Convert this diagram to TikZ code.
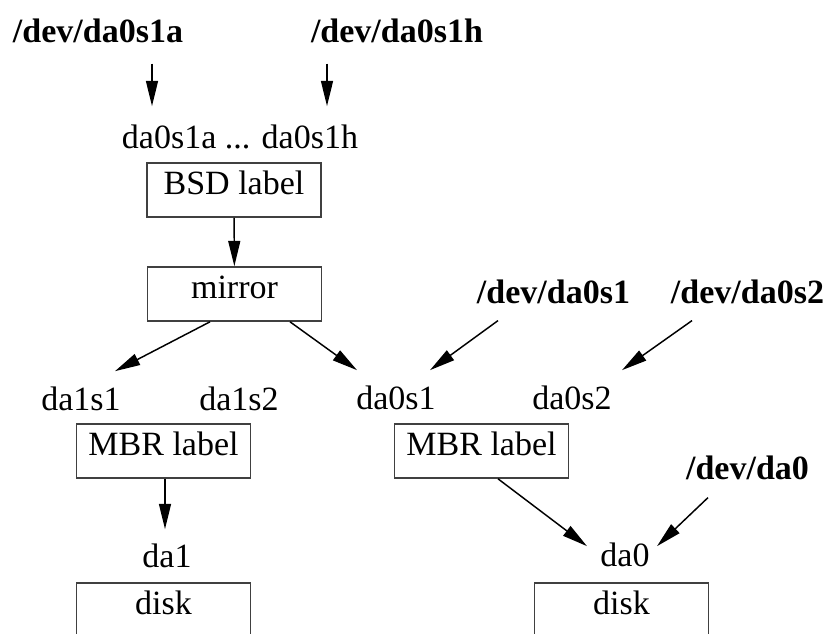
\documentclass[tikz,border=0pt]{standalone}
\usepackage{fontspec}
\setmainfont{Liberation Serif}
\usepackage{tikz}
\usetikzlibrary{arrows.meta, positioning, calc}

\begin{document}
\begin{tikzpicture}[
    x=0.75pt, y=-0.75pt,
    font=\fontsize{25.5}{30}\selectfont,
    lbl/.style={inner sep=0pt, anchor=base},
    dev/.style={lbl, font=\fontsize{25.5}{30}\selectfont\bfseries},
    box/.style={draw=black!75, line width=1.2pt, minimum width=130.5pt, minimum height=40.5pt,
                inner sep=0pt, text height=0.68em, text depth=0pt},
    arrow/.style={-{Triangle[length=19pt, width=9pt]}, line width=1.1pt}
]
\useasboundingbox (0,0) rectangle (829,633);
\clip (0,0) rectangle (829,633);

% Device names
\node[dev] (devA) at (98,42) {/dev/da0s1a};
\node[dev] (devH) at (397,42) {/dev/da0s1h};
\node[dev] (devS1) at (553.5,303) {/dev/da0s1};
\node[dev] (devS2) at (747.5,303) {/dev/da0s2};
\node[dev] (devD0) at (747.5,479) {/dev/da0};

% BSD label and mirror column
\node[lbl] (slices) at (240,148) {da0s1a ... da0s1h};
\node[box] (bsd) at (234,190) {BSD label};
\node[box] (mirror) at (234.5,294) {mirror};

% Left disk
\node[lbl] (da1s1) at (81,410) {da1s1};
\node[lbl] (da1s2) at (239,410) {da1s2};
\node[box] (mbrL) at (163.5,451) {MBR label};
\node[lbl] (da1) at (167,567) {da1};
\node[box] (diskL) at (163.5,610) {disk};

% Right disk
\node[lbl] (da0s1) at (396,409) {da0s1};
\node[lbl] (da0s2) at (572,409) {da0s2};
\node[box] (mbrR) at (481.5,451) {MBR label};
\node[lbl] (da0) at (625,566) {da0};
\node[box] (diskR) at (621.5,610) {disk};

% Arrows
\draw[arrow] ($(devA.south)+(54,21)$) -- ($(slices.north)+(-88,-18)$);
\draw[arrow] ($(devH.south)+(-70,21)$) -- ($(slices.north)+(87,-18)$);
\draw[arrow] (bsd) -- (mirror);
\draw[arrow] ($(mirror.south)+(-24.5,0)$) -- ($(da1s1.north)+(34,-15)$);
\draw[arrow] ($(mirror.south)+(55.5,0)$) -- ($(da0s1.north)+(-39,-15)$);
\draw[arrow] ($(devS1.south)+(-55.5,17)$) -- ($(da0s1.north)+(34,-15)$);
\draw[arrow] ($(devS2.south)+(-55.5,17)$) -- ($(da0s2.north)+(50,-15)$);
\draw[arrow] ($(mbrL.south)+(1.5,0)$) -- ($(mbrL.south |- da1.north)+(1.5,-14)$);
\draw[arrow] ($(mbrR.south)+(16.5,0)$) -- ($(da0.north)+(-38,4)$);
\draw[arrow] ($(devD0.south)+(-39.5,18)$) -- ($(da0.north)+(32,4)$);
\end{tikzpicture}
\end{document}
